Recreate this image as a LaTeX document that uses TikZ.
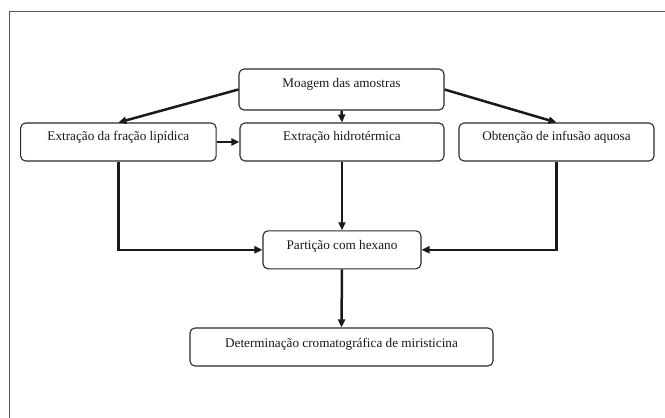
\documentclass[tikz,border=0pt]{standalone}
\usepackage{fontspec}
\setmainfont{Liberation Serif}
\usetikzlibrary{arrows.meta}
\definecolor{framegray}{HTML}{555555}
\definecolor{boxline}{HTML}{2A2A2A}
\definecolor{conn}{HTML}{1A1A1A}
\tikzset{
  box/.style={draw=boxline, line width=1.1pt, rounded corners=5pt, inner xsep=0pt, inner ysep=0pt,
    font=\fontsize{13.2}{15}\selectfont, text=black!90},
  rowtwo/.style={box, minimum height=38pt, text height=17.5pt, text depth=20.5pt},
  lowbox/.style={box, minimum height=38pt, text height=19pt, text depth=19pt},
  conn/.style={draw=conn, line width=2.5pt, -{Triangle[length=8pt,width=7pt]}},
}
\begin{document}
\begin{tikzpicture}[x=1pt,y=-1pt]
\useasboundingbox (0,0) rectangle (665,418);
\fill[white] (0,0) rectangle (665,418);
\draw[framegray, line width=1.6pt] (665,11.5) -- (9.5,11.5) -- (9.5,418);
\node[box, minimum width=205pt, minimum height=41pt, text height=18pt, text depth=23pt] (m) at (341.5,89.5) {Moagem das amostras};
\node[rowtwo, minimum width=195.5pt] (lip) at (118.4,142) {Extração da fração lipídica};
\node[rowtwo, minimum width=204pt] (h) at (342,142) {Extração hidrotérmica};
\node[rowtwo, minimum width=195pt] (inf) at (556.5,142) {Obtenção de infusão aquosa};
\node[lowbox, minimum width=158pt] (p) at (342,249.8) {Partição com hexano};
\node[lowbox, minimum width=303pt] (d) at (341.5,347) {Determinação cromatográfica de miristicina};
\draw[conn] (m.west) -- (lip.north);
\draw[conn] (m.south) -- (h.north);
\draw[conn] (m.east) -- (inf.north);
\draw[conn] (lip.east) -- (h.west);
\draw[conn] (lip.south) |- (p.west);
\draw[conn] (h.south) -- (p.north);
\draw[conn] (inf.south) |- (p.east);
\draw[conn] (p.south) -- (d.north);
\end{tikzpicture}
\end{document}
